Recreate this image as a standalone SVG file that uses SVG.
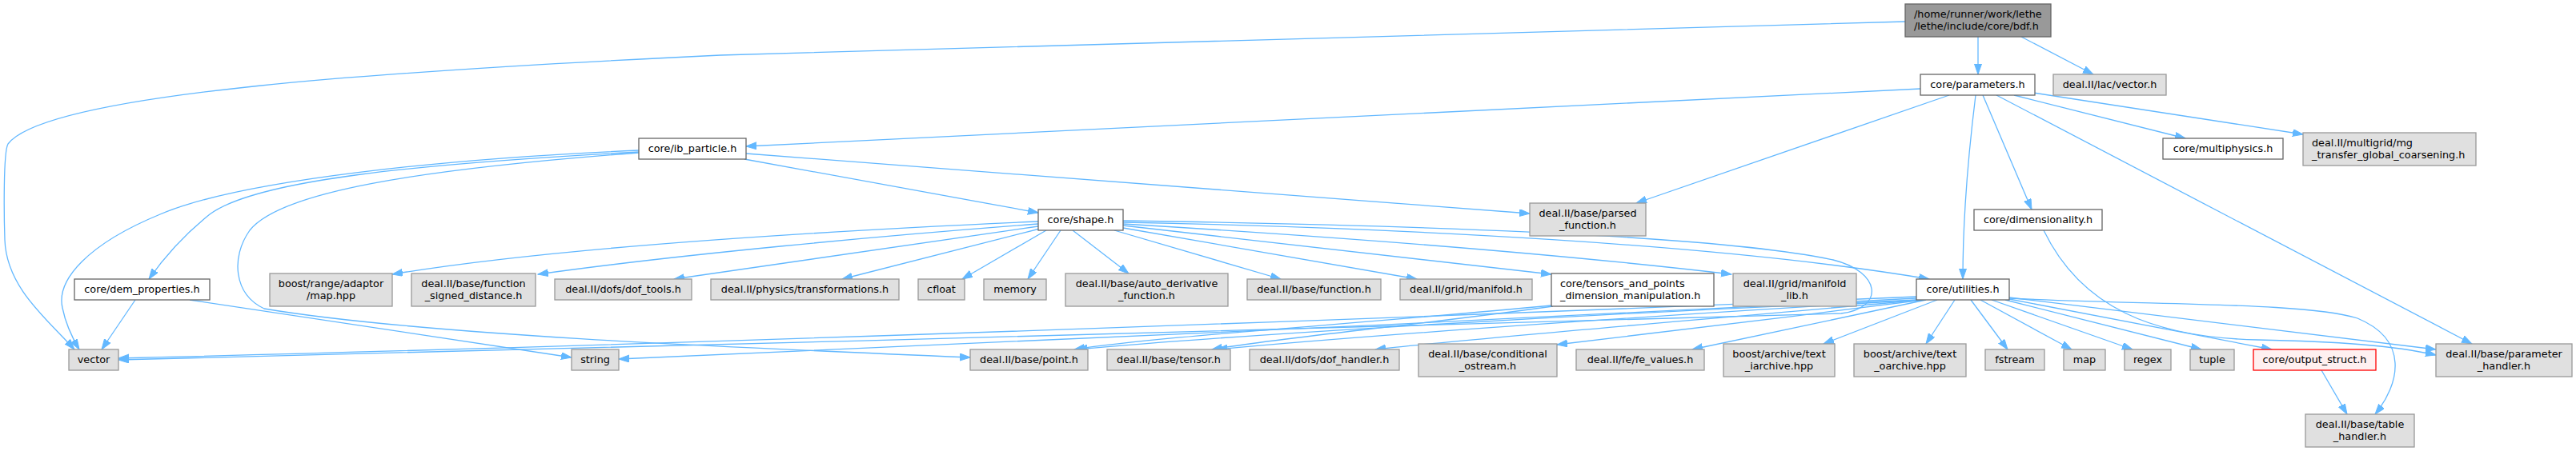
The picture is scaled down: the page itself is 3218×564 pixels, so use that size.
<svg xmlns="http://www.w3.org/2000/svg" width="3218" height="564" viewBox="0 0 3218 564">
<style>
rect{stroke-width:1.3}
.w{fill:#ffffff;stroke:#666666}
.g{fill:#e0e0e0;stroke:#999999}
.r{fill:#999999;stroke:#666666}
.o{fill:#fff0f0;stroke:#ff0000}
text{font-family:"DejaVu Sans",sans-serif;font-size:12.8px;fill:#000000;text-anchor:middle}
text.l{text-anchor:start}
#edges path{fill:none;stroke:#63b8ff;stroke-width:1.3;marker-end:url(#ah)}
</style>
<defs>
<marker id="ah" markerUnits="userSpaceOnUse" markerWidth="14" markerHeight="10" refX="13" refY="4.5" orient="auto">
<path d="M0,0 L13,4.5 L0,9 z" fill="#63b8ff" stroke="#63b8ff" stroke-width="1"/>
</marker>
</defs>
<rect width="3218" height="564" fill="#ffffff"/>
<g id="edges">
<path d="M2471,46 L2471,93"/>
<path d="M2525,46 L2615,93"/>
<path d="M2380,27 C1700,45 1100,60 900,69 C500,88 60,115 10,180 C4,190 5,270 6,300 C8,360 60,400 93,437"/>
<path d="M2399,111 L932,183"/>
<path d="M2435,119 L2044,254"/>
<path d="M2468,119 C2458,200 2452,280 2452,349"/>
<path d="M2477,119 L2538,262"/>
<path d="M2494,119 L3088,430"/>
<path d="M2516,119 L2730,173"/>
<path d="M2540,116 L2877,168"/>
<path d="M930,199 L1297,266"/>
<path d="M932,192 L1911,267"/>
<path d="M798,190 C520,205 320,225 262,268 C232,292 205,322 186,349"/>
<path d="M798,188 C560,198 300,225 200,268 C110,305 70,350 78,385 C82,405 90,422 99,437"/>
<path d="M798,191 C520,212 350,240 312,288 C288,322 292,368 330,386 C520,418 900,434 1212,447"/>
<path d="M169,375 L127,437"/>
<path d="M237,375 L714,447"/>
<path d="M1297,277 C1050,288 700,308 490,343"/>
<path d="M1297,280 C1100,295 850,318 672,343"/>
<path d="M1297,283 L842,349"/>
<path d="M1299,286 L1052,349"/>
<path d="M1307,288 L1202,349"/>
<path d="M1325,288 L1284,349"/>
<path d="M1340,288 L1410,342"/>
<path d="M1392,288 L1600,349"/>
<path d="M1403,285 L1770,349"/>
<path d="M1403,282 L1938,343"/>
<path d="M1403,280 C1700,298 1950,318 2163,343"/>
<path d="M1403,278 C1750,285 2150,305 2410,349"/>
<path d="M1403,276 C1800,282 2150,295 2290,325 C2350,340 2355,385 2300,392 C1800,410 800,432 148,450"/>
<path d="M1938,382 C1700,405 1450,420 1342,437"/>
<path d="M1940,383 C1760,408 1600,422 1514,437"/>
<path d="M2394,371 C1900,392 900,430 148,448"/>
<path d="M2394,373 C1900,398 1100,438 773,449"/>
<path d="M2396,375 C2000,392 1550,418 1345,437"/>
<path d="M2398,375 C2050,396 1700,420 1520,437"/>
<path d="M2400,375 C2150,398 1850,422 1718,437"/>
<path d="M2403,375 C2250,395 2050,418 1945,431"/>
<path d="M2406,375 L2114,437"/>
<path d="M2420,375 L2278,430"/>
<path d="M2442,375 L2406,430"/>
<path d="M2462,375 L2508,437"/>
<path d="M2474,375 L2588,437"/>
<path d="M2488,375 L2664,437"/>
<path d="M2505,375 L2750,437"/>
<path d="M2510,374 L2838,437"/>
<path d="M2510,372 C2700,395 2900,420 3043,437"/>
<path d="M2510,373 C2700,382 2880,378 2945,398 C3010,425 2998,480 2967,518"/>
<path d="M2553,288 C2600,385 2690,422 2820,425 C2920,427 2990,432 3043,444"/>
<path d="M2900,463 L2932,518"/>
</g>
<g id="root"><rect class="r" x="2380" y="5" width="182" height="41"/><text class="l" x="2391" y="22.4">/home/runner/work/lethe</text><text class="l" x="2391" y="37.4">/lethe/include/core/bdf.h</text></g>
<g id="parameters"><rect class="w" x="2399" y="93" width="143" height="26"/><text x="2470.5" y="110.4">core/parameters.h</text></g>
<g id="lac_vector"><rect class="g" x="2565" y="93" width="141" height="26"/><text x="2635.5" y="110.4">deal.II/lac/vector.h</text></g>
<g id="ib_particle"><rect class="w" x="798" y="173" width="134" height="26"/><text x="865" y="190.4">core/ib_particle.h</text></g>
<g id="multiphysics"><rect class="w" x="2702" y="173" width="150" height="26"/><text x="2777" y="190.4">core/multiphysics.h</text></g>
<g id="mg_transfer"><rect class="g" x="2877" y="166" width="216" height="41"/><text class="l" x="2888" y="183.4">deal.II/multigrid/mg</text><text class="l" x="2888" y="198.4">_transfer_global_coarsening.h</text></g>
<g id="shape"><rect class="w" x="1297" y="262" width="106" height="26"/><text x="1350" y="279.4">core/shape.h</text></g>
<g id="parsed_function"><rect class="g" x="1911" y="254" width="145" height="41"/><text x="1983.5" y="271.4">deal.II/base/parsed</text><text x="1983.5" y="286.4">_function.h</text></g>
<g id="dimensionality"><rect class="w" x="2466" y="262" width="160" height="26"/><text x="2546" y="279.4">core/dimensionality.h</text></g>
<g id="dem_properties"><rect class="w" x="93" y="349" width="169" height="26"/><text x="177.5" y="366.4">core/dem_properties.h</text></g>
<g id="adaptor_map"><rect class="g" x="337" y="342" width="153" height="41"/><text x="413.5" y="359.4">boost/range/adaptor</text><text x="413.5" y="374.4">/map.hpp</text></g>
<g id="function_signed_distance"><rect class="g" x="514" y="342" width="155" height="41"/><text x="591.5" y="359.4">deal.II/base/function</text><text x="591.5" y="374.4">_signed_distance.h</text></g>
<g id="dof_tools"><rect class="g" x="693" y="349" width="171" height="26"/><text x="778.5" y="366.4">deal.II/dofs/dof_tools.h</text></g>
<g id="transformations"><rect class="g" x="888" y="349" width="235" height="26"/><text x="1005.5" y="366.4">deal.II/physics/transformations.h</text></g>
<g id="cfloat"><rect class="g" x="1147" y="349" width="58" height="26"/><text x="1176" y="366.4">cfloat</text></g>
<g id="memory"><rect class="g" x="1229" y="349" width="78" height="26"/><text x="1268" y="366.4">memory</text></g>
<g id="auto_derivative"><rect class="g" x="1331" y="342" width="203" height="41"/><text x="1432.5" y="359.4">deal.II/base/auto_derivative</text><text x="1432.5" y="374.4">_function.h</text></g>
<g id="function"><rect class="g" x="1558" y="349" width="167" height="26"/><text x="1641.5" y="366.4">deal.II/base/function.h</text></g>
<g id="manifold"><rect class="g" x="1749" y="349" width="165" height="26"/><text x="1831.5" y="366.4">deal.II/grid/manifold.h</text></g>
<g id="tensors_and_points"><rect class="w" x="1938" y="342" width="203" height="41"/><text class="l" x="1949" y="359.4">core/tensors_and_points</text><text class="l" x="1949" y="374.4">_dimension_manipulation.h</text></g>
<g id="manifold_lib"><rect class="g" x="2165" y="342" width="154" height="41"/><text x="2242" y="359.4">deal.II/grid/manifold</text><text x="2242" y="374.4">_lib.h</text></g>
<g id="utilities"><rect class="w" x="2394" y="349" width="116" height="26"/><text x="2452" y="366.4">core/utilities.h</text></g>
<g id="vector"><rect class="g" x="86" y="437" width="62" height="26"/><text x="117" y="454.4">vector</text></g>
<g id="string"><rect class="g" x="714" y="437" width="59" height="26"/><text x="743.5" y="454.4">string</text></g>
<g id="point"><rect class="g" x="1212" y="437" width="147" height="26"/><text x="1285.5" y="454.4">deal.II/base/point.h</text></g>
<g id="tensor"><rect class="g" x="1383" y="437" width="154" height="26"/><text x="1460" y="454.4">deal.II/base/tensor.h</text></g>
<g id="dof_handler"><rect class="g" x="1561" y="437" width="187" height="26"/><text x="1654.5" y="454.4">deal.II/dofs/dof_handler.h</text></g>
<g id="conditional_ostream"><rect class="g" x="1772" y="430" width="173" height="41"/><text x="1858.5" y="447.4">deal.II/base/conditional</text><text x="1858.5" y="462.4">_ostream.h</text></g>
<g id="fe_values"><rect class="g" x="1969" y="437" width="160" height="26"/><text x="2049" y="454.4">deal.II/fe/fe_values.h</text></g>
<g id="text_iarchive"><rect class="g" x="2153" y="430" width="139" height="41"/><text x="2222.5" y="447.4">boost/archive/text</text><text x="2222.5" y="462.4">_iarchive.hpp</text></g>
<g id="text_oarchive"><rect class="g" x="2316" y="430" width="140" height="41"/><text x="2386" y="447.4">boost/archive/text</text><text x="2386" y="462.4">_oarchive.hpp</text></g>
<g id="fstream"><rect class="g" x="2480" y="437" width="74" height="26"/><text x="2517" y="454.4">fstream</text></g>
<g id="map"><rect class="g" x="2578" y="437" width="52" height="26"/><text x="2604" y="454.4">map</text></g>
<g id="regex"><rect class="g" x="2654" y="437" width="58" height="26"/><text x="2683" y="454.4">regex</text></g>
<g id="tuple"><rect class="g" x="2736" y="437" width="55" height="26"/><text x="2763.5" y="454.4">tuple</text></g>
<g id="output_struct"><rect class="o" x="2815" y="437" width="153" height="26"/><text x="2891.5" y="454.4">core/output_struct.h</text></g>
<g id="parameter_handler"><rect class="g" x="3043" y="430" width="170" height="41"/><text x="3128" y="447.4">deal.II/base/parameter</text><text x="3128" y="462.4">_handler.h</text></g>
<g id="table_handler"><rect class="g" x="2880" y="518" width="136" height="41"/><text x="2948" y="535.4">deal.II/base/table</text><text x="2948" y="550.4">_handler.h</text></g>
</svg>
